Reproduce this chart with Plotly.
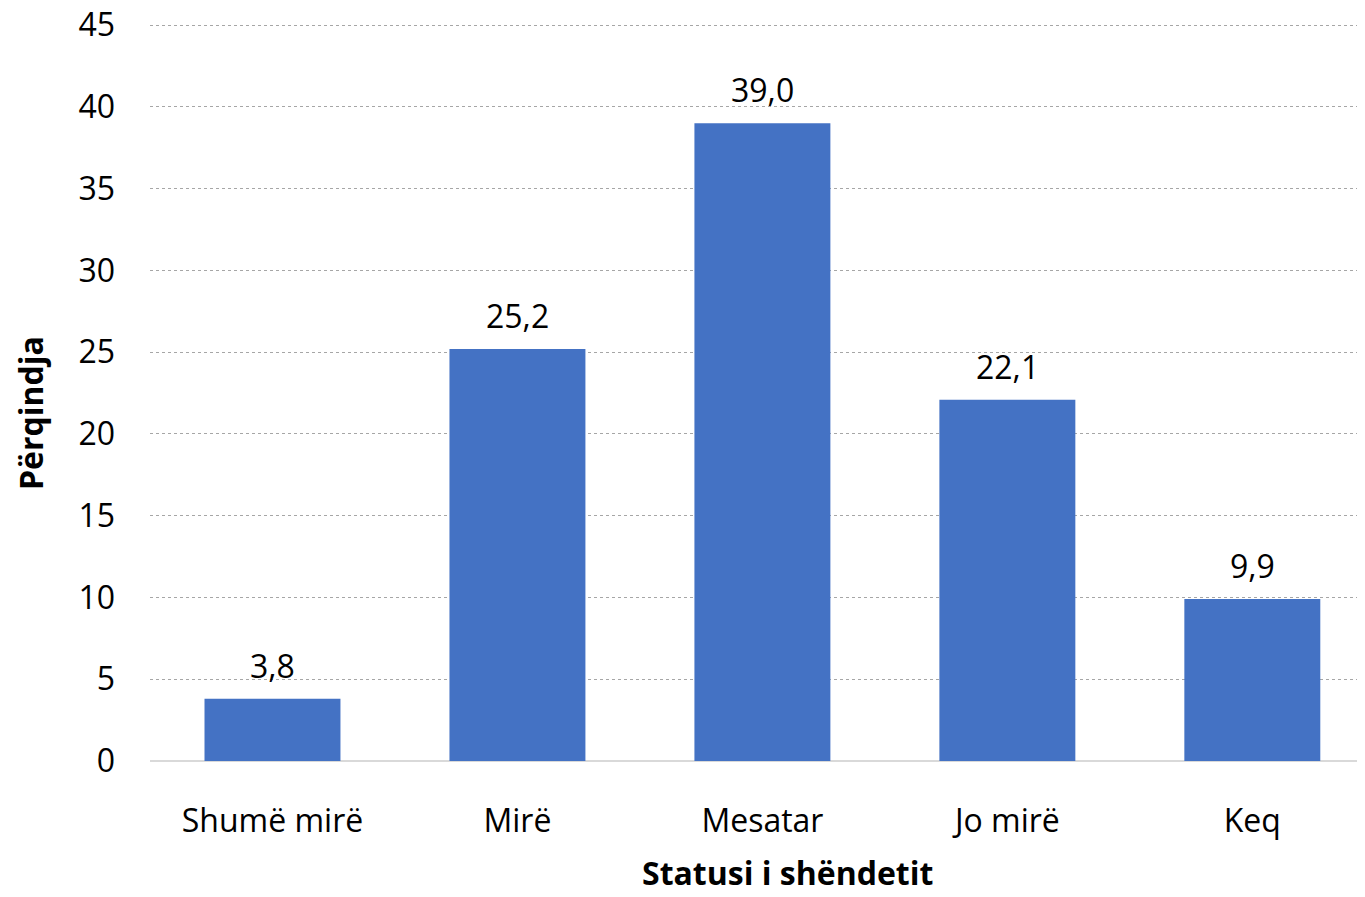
import plotly.graph_objects as go

categories = ["Shumë mirë", "Mirë", "Mesatar", "Jo mirë", "Keq"]
values = [3.8, 25.2, 39.0, 22.1, 9.9]
labels = ["3,8", "25,2", "39,0", "22,1", "9,9"]
y_ticks = [0, 5, 10, 15, 20, 25, 30, 35, 40, 45]

FONT = "Open Sans"
FS = 32

xs = list(range(len(categories)))

fig = go.Figure(go.Bar(
    x=xs,
    y=values,
    marker=dict(color="#4472C4", line=dict(width=0)),
    hoverinfo="skip",
))

for xi, v, t in zip(xs, values, labels):
    fig.add_annotation(
        x=xi, y=v, text=t, showarrow=False,
        xref="x", yref="y", yanchor="bottom", yshift=10,
        font=dict(size=FS, family=FONT, color="#000000"),
    )

# axis titles
fig.add_annotation(
    x=0.525, y=-0.181, xref="paper", yref="paper",
    text="<b>Statusi i shëndetit</b>", showarrow=False,
    xanchor="center", yanchor="bottom",
    font=dict(size=FS, family=FONT, color="#000000"),
)
fig.add_annotation(
    x=-0.0988, y=0.4677, xref="paper", yref="paper",
    text="<b>Përqindja</b>", showarrow=False, textangle=-90,
    xanchor="center", yanchor="middle",
    font=dict(size=FS, family=FONT, color="#000000"),
)

fig.update_layout(
    width=1357, height=889,
    margin=dict(l=142, r=0, t=9, b=136, autoexpand=False),
    paper_bgcolor="white", plot_bgcolor="white",
    bargap=0.445,
    showlegend=False,
    font=dict(family=FONT, size=FS, color="#000000"),
    xaxis=dict(
        tickmode="array",
        tickvals=xs,
        ticktext=categories,
        range=[-0.5, 4.46],
        showgrid=False,
        showline=False,
        zeroline=False,
        ticks="",
        automargin=False,
        ticklabelstandoff=38,
        tickfont=dict(size=FS, family=FONT),
    ),
    yaxis=dict(
        range=[0, 45.5],
        tickvals=y_ticks,
        ticktext=[str(v) for v in y_ticks],
        showgrid=True,
        gridcolor="#A6A6A6",
        griddash="dot",
        gridwidth=1,
        zeroline=True,
        zerolinecolor="#D9D9D9",
        zerolinewidth=2,
        showline=False,
        ticks="",
        automargin=False,
        ticklabelstandoff=34,
        ticklabeloverflow="allow",
        tickfont=dict(size=FS, family=FONT),
    ),
)

fig.write_html("out.html")
